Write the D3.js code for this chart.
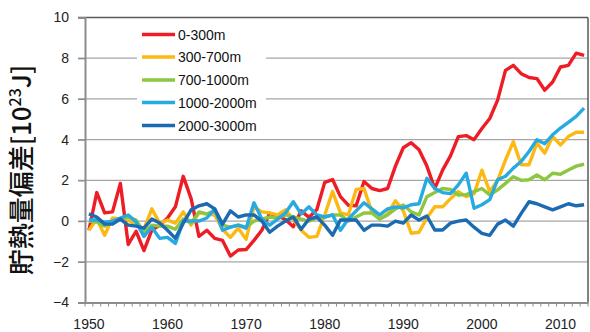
<!DOCTYPE html>
<html><head><meta charset="utf-8">
<script src="https://cdn.jsdelivr.net/npm/d3@7"></script>
<style>
html,body{margin:0;padding:0;background:#fff;}
svg{display:block;}
</style></head>
<body>
<svg id="chart" width="590" height="332"></svg>
<script>
const years = d3.range(1950, 2014);
const xTickYears = [1950, 1960, 1970, 1980, 1990, 2000, 2010];
const yTicks = [-4, -2, 0, 2, 4, 6, 8, 10];
const seriesNames = ["0-300m", "300-700m", "700-1000m", "1000-2000m", "2000-3000m"];
const seriesColors = ["#EE1C25", "#FDB913", "#8DC63F", "#27AAE1", "#1C6AB2"];

const d0_300 = [-0.45,1.4,0.4,0.45,1.85,-1.15,-0.5,-1.45,-0.45,-0.2,
  0.15,0.7,2.2,1.1,-0.75,-0.45,-0.85,-0.95,-1.72,-1.42,
  -1.4,-0.95,-0.45,0.38,0.25,0.08,-0.28,0.5,0.18,0.57,
  1.9,2.04,1.2,0.78,0.75,1.94,1.6,1.5,1.6,2.7,
  3.6,3.85,3.5,2.7,1.6,2.5,3.2,4.15,4.2,4.0,
  4.55,5.04,5.94,7.4,7.65,7.24,7.05,7.0,6.43,6.83,
  7.57,7.65,8.25,8.14];
const d300_700 = [-0.45,0.1,-0.7,0.15,0.1,0.05,-0.2,-0.4,0.6,-0.1,
  0.05,-0.1,0.45,-0.2,0.4,0.35,0.3,-0.4,-0.8,-0.35,
  -0.9,0.7,0.45,0.4,0.3,0.55,0.1,-0.45,-0.8,-0.75,
  0.3,1.45,0.4,0.3,1.55,1.6,0.45,0.1,0.35,1.0,
  0.5,-0.6,-0.55,0.15,0.7,0.7,1.1,1.45,1.2,1.35,
  2.5,1.45,2.0,3.0,3.9,2.77,2.77,3.83,3.34,4.15,
  3.74,4.15,4.36,4.36];
const d700_1000 = [0.0,-0.05,-0.25,0.0,0.1,0.2,0.05,-0.55,-0.2,-0.25,
  -0.25,-0.4,0.1,-0.1,0.45,0.35,0.5,-0.2,-0.3,-0.2,
  -0.3,0.0,0.1,0.2,0.15,0.3,0.2,0.1,0.0,0.15,
  0.2,0.3,0.3,0.0,0.2,0.4,0.4,0.1,0.3,0.6,
  0.79,0.46,0.3,1.2,1.4,1.6,1.55,1.28,1.3,1.45,
  1.6,1.28,1.53,1.85,2.18,2.0,2.03,2.26,2.03,2.35,
  2.3,2.51,2.7,2.79];
const d1000_2000 = [0.05,0.05,-0.05,0.0,0.15,0.3,-0.05,-0.75,-0.3,-0.85,
  -0.8,-1.1,0.0,0.0,0.0,0.15,0.6,-0.45,-0.3,-0.2,
  -0.35,0.9,0.1,-0.2,0.1,0.4,0.95,0.35,0.7,0.3,
  0.2,0.3,-0.45,0.1,0.5,0.9,0.6,0.3,0.6,0.7,
  0.65,0.8,0.85,2.1,1.6,1.4,1.35,1.78,2.35,0.63,
  0.8,1.05,2.03,2.2,2.6,2.93,3.42,4.0,3.8,4.24,
  4.57,4.85,5.14,5.55];
const d2000_3000 = [0.35,0.2,-0.15,-0.15,0.1,-0.2,-0.25,-0.35,0.1,-0.1,
  -0.45,-0.85,-0.1,0.55,0.75,0.85,0.6,-0.15,0.5,0.2,
  0.3,0.3,0.0,-0.55,-0.25,0.0,0.2,-0.4,0.1,0.2,
  -0.2,-0.7,0.05,0.05,0.05,-0.45,-0.2,-0.2,-0.25,0.0,
  -0.1,0.3,0.05,0.25,-0.44,-0.44,-0.1,0.0,0.05,-0.3,
  -0.6,-0.7,-0.15,0.05,-0.25,0.38,0.95,0.85,0.7,0.55,
  0.7,0.85,0.75,0.8];
const seriesValues = [d0_300, d300_700, d700_1000, d1000_2000, d2000_3000];

const svg = d3.select("#chart");
const L = 85, R = 588, T = 17.5, B = 302.5;
const x = d3.scaleBand().domain(years).range([L, R]).padding(0);
const y = d3.scaleLinear().domain([-4, 10]).range([B, T]);
const cx = yr => x(yr) + x.bandwidth() / 2;

// gridlines
svg.append("g").selectAll("line").data(yTicks.filter(t => t > -4 && t < 10)).join("line")
  .attr("x1", L - 7).attr("x2", R).attr("y1", d => y(d)).attr("y2", d => y(d))
  .attr("stroke", "#A6A6A6").attr("stroke-width", 1.3);

// top & right border
svg.append("line").attr("x1", L - 7).attr("x2", R).attr("y1", y(10)).attr("y2", y(10))
  .attr("stroke", "#595959").attr("stroke-width", 1.5);
svg.append("line").attr("x1", R).attr("x2", R).attr("y1", y(10)).attr("y2", B)
  .attr("stroke", "#595959").attr("stroke-width", 1.5);

// y axis
const yAxis = d3.axisLeft(y).tickValues(yTicks).tickSize(7).tickPadding(9).tickFormat(d3.format("d"));
const gy = svg.append("g").attr("transform", `translate(${L},0)`).call(yAxis);
gy.select(".domain").attr("stroke", "#8C8C8C").attr("stroke-width", 2);
gy.selectAll(".tick line").attr("stroke", "#8C8C8C").attr("stroke-width", 1.3);
gy.selectAll("text").attr("font-family", "'Liberation Sans', Arial, sans-serif")
  .attr("font-size", 14).attr("fill", "#222");

// x axis (labels)
const xAxis = d3.axisBottom(x).tickValues(xTickYears).tickSize(0).tickPadding(17);
const gx = svg.append("g").attr("transform", `translate(0,${B})`).call(xAxis);
gx.select(".domain").attr("stroke", "#8C8C8C").attr("stroke-width", 2);
gx.selectAll("text").attr("font-family", "'Liberation Sans', Arial, sans-serif")
  .attr("font-size", 14).attr("fill", "#222");
// x minor ticks at category boundaries
svg.append("g").selectAll("line").data(years.concat([null])).join("line")
  .attr("x1", d => d === null ? R : x(d)).attr("x2", d => d === null ? R : x(d))
  .attr("y1", B).attr("y2", B + 4)
  .attr("stroke", "#8C8C8C").attr("stroke-width", 1);

// lines
const line = d3.line().x((d, i) => cx(years[i])).y(d => y(d));
const gl = svg.append("g");
seriesValues.forEach((vals, k) => {
  gl.append("path").datum(vals).attr("d", line)
    .attr("fill", "none").attr("stroke", seriesColors[k])
    .attr("stroke-width", 3.4).attr("stroke-linejoin", "round").attr("stroke-linecap", "butt");
});

// legend
const lg = svg.append("g");
lg.append("rect").attr("x", 137).attr("y", 22).attr("width", 129).attr("height", 114).attr("fill", "#fff");
const rowY = [34.5, 57, 80, 102.5, 125.5];
seriesNames.forEach((n, k) => {
  lg.append("line").attr("x1", 142).attr("x2", 175).attr("y1", rowY[k]).attr("y2", rowY[k])
    .attr("stroke", seriesColors[k]).attr("stroke-width", 3.4);
  lg.append("text").attr("x", 178).attr("y", rowY[k] + 5).text(n)
    .attr("font-family", "'Liberation Sans', Arial, sans-serif").attr("font-size", 14).attr("fill", "#111");
});

// y title
const title = svg.append("text")
  .attr("transform", "translate(31,170) rotate(-90)")
  .attr("text-anchor", "middle")
  .attr("font-family", "'Noto Sans CJK JP', sans-serif").attr("font-size", 26).attr("font-weight", 500).attr("fill", "#111");
title.append("tspan").text("貯熱量偏差[10");
title.append("tspan").text("23").attr("font-size", 16).attr("dy", -10);
title.append("tspan").text("J]").attr("dy", 10);
</script>
</body></html>
